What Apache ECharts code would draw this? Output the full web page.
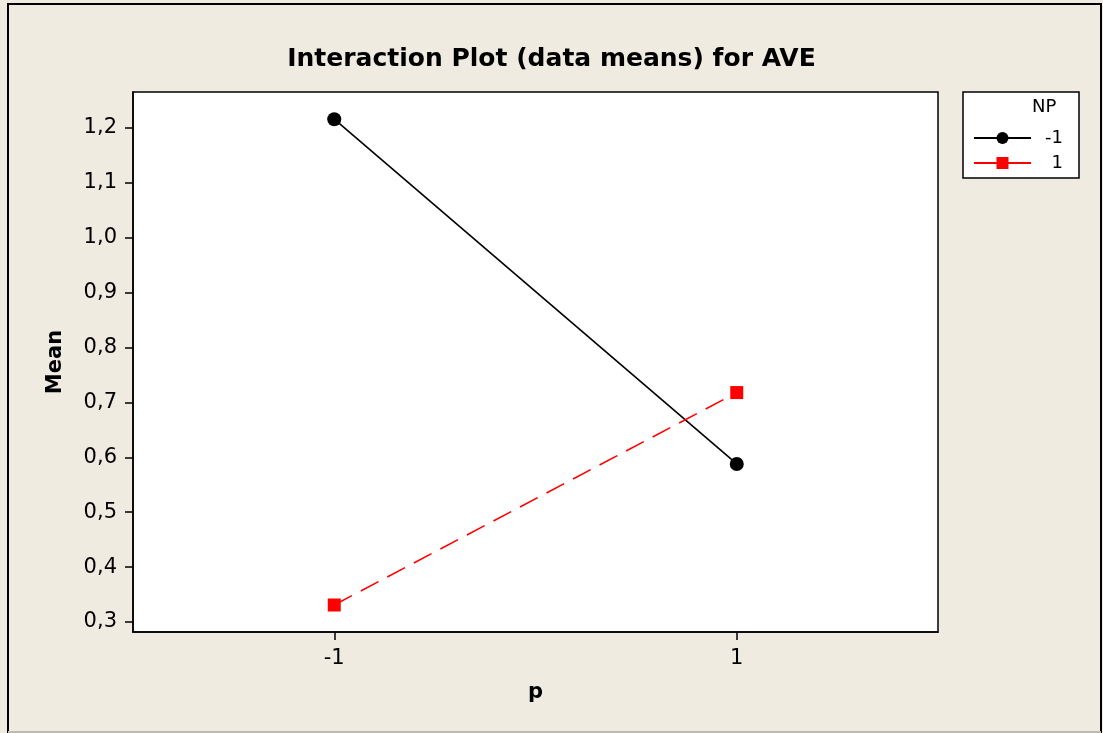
<!DOCTYPE html>
<html>
<head>
<meta charset="utf-8">
<script src="https://cdn.jsdelivr.net/npm/echarts@6/dist/echarts.min.js"></script>
<style>
html,body{margin:0;padding:0;background:#fff;}
#chart{width:1103px;height:733px;}
</style>
</head>
<body>
<div id="chart"></div>
<script>
const pLevels = [-1, 1];
const seriesNames = ['-1', '1'];
const meanNP_neg1 = [1.216, 0.588];
const meanNP_pos1 = [0.331, 0.718];
const yTicks = [0.3, 0.4, 0.5, 0.6, 0.7, 0.8, 0.9, 1.0, 1.1, 1.2];

const FONT = 'DejaVu Sans';
const chart = echarts.init(document.getElementById('chart'));
const fmt = v => v.toFixed(1).replace('.', ',');

chart.setOption({
  backgroundColor: '#EFEBE1',
  animation: false,
  title: {
    text: 'Interaction Plot (data means) for AVE',
    left: 'center',
    top: 42,
    textStyle: {fontFamily: FONT, fontWeight: 'bold', fontSize: 25, color: '#000'}
  },
  graphic: [
    {type: 'rect', shape: {x: 8, y: 4, width: 1093, height: 728}, style: {fill: 'none', stroke: '#000', lineWidth: 2}, silent: true, z: 0},
    {type: 'line', shape: {x1: 8, y1: 732, x2: 1101, y2: 732}, style: {stroke: '#BDBAB2', lineWidth: 2}, silent: true, z: 1},
    {type: 'text', x: 1032, y: 98, style: {text: 'NP', fontFamily: FONT, fontSize: 18, fill: '#000'}, z: 10}
  ],
  legend: {
    data: seriesNames,
    orient: 'vertical',
    left: 963,
    top: 92,
    padding: [37, 16, 6, 10],
    itemGap: 7,
    itemWidth: 57,
    itemHeight: 15,
    backgroundColor: '#fff',
    borderColor: '#000',
    borderWidth: 1.5,
    lineStyle: {type: 'solid'},
    formatter: n => '{a|' + n + '}',
    textStyle: {fontFamily: FONT, fontSize: 18, color: '#000', rich: {a: {width: 27, align: 'right', fontFamily: FONT, fontSize: 18}}}
  },
  grid: {left: 133, top: 92, width: 805, height: 540, backgroundColor: '#fff', show: true, borderColor: '#000', borderWidth: 1.5},
  xAxis: {
    type: 'value',
    min: -2, max: 2,
    name: 'p',
    nameLocation: 'middle',
    nameGap: 50,
    nameTextStyle: {fontFamily: FONT, fontWeight: 'bold', fontSize: 21, color: '#000'},
    axisLine: {show: true, onZero: false, lineStyle: {color: '#000', width: 1.5}},
    axisTick: {show: true, length: 8, customValues: pLevels, lineStyle: {color: '#000', width: 1.5}},
    axisLabel: {customValues: pLevels, formatter: v => String(v), margin: 16, fontFamily: FONT, fontSize: 21, color: '#000'},
    splitLine: {show: false}
  },
  yAxis: {
    type: 'value',
    min: 0.2818, max: 1.2656,
    name: 'Mean',
    nameLocation: 'middle',
    nameGap: 67,
    nameRotate: 90,
    nameTextStyle: {fontFamily: FONT, fontWeight: 'bold', fontSize: 21, color: '#000'},
    axisLine: {show: true, onZero: false, lineStyle: {color: '#000', width: 1.5}},
    axisTick: {show: true, length: 8, customValues: yTicks, lineStyle: {color: '#000', width: 1.5}},
    axisLabel: {customValues: yTicks, formatter: fmt, margin: 16, fontFamily: FONT, fontSize: 21, color: '#000'},
    splitLine: {show: false}
  },
  series: [
    {
      name: seriesNames[0], type: 'line',
      data: pLevels.map((p, i) => [p, meanNP_neg1[i]]),
      symbol: 'circle', symbolSize: 14,
      lineStyle: {color: '#000', width: 1.6},
      itemStyle: {color: '#000'}
    },
    {
      name: seriesNames[1], type: 'line',
      data: pLevels.map((p, i) => [p, meanNP_pos1[i]]),
      symbol: 'rect', symbolSize: 13,
      lineStyle: {color: '#FF0000', width: 1.6, type: [20, 10]},
      itemStyle: {color: '#FF0000'}
    }
  ]
});
</script>
</body>
</html>
